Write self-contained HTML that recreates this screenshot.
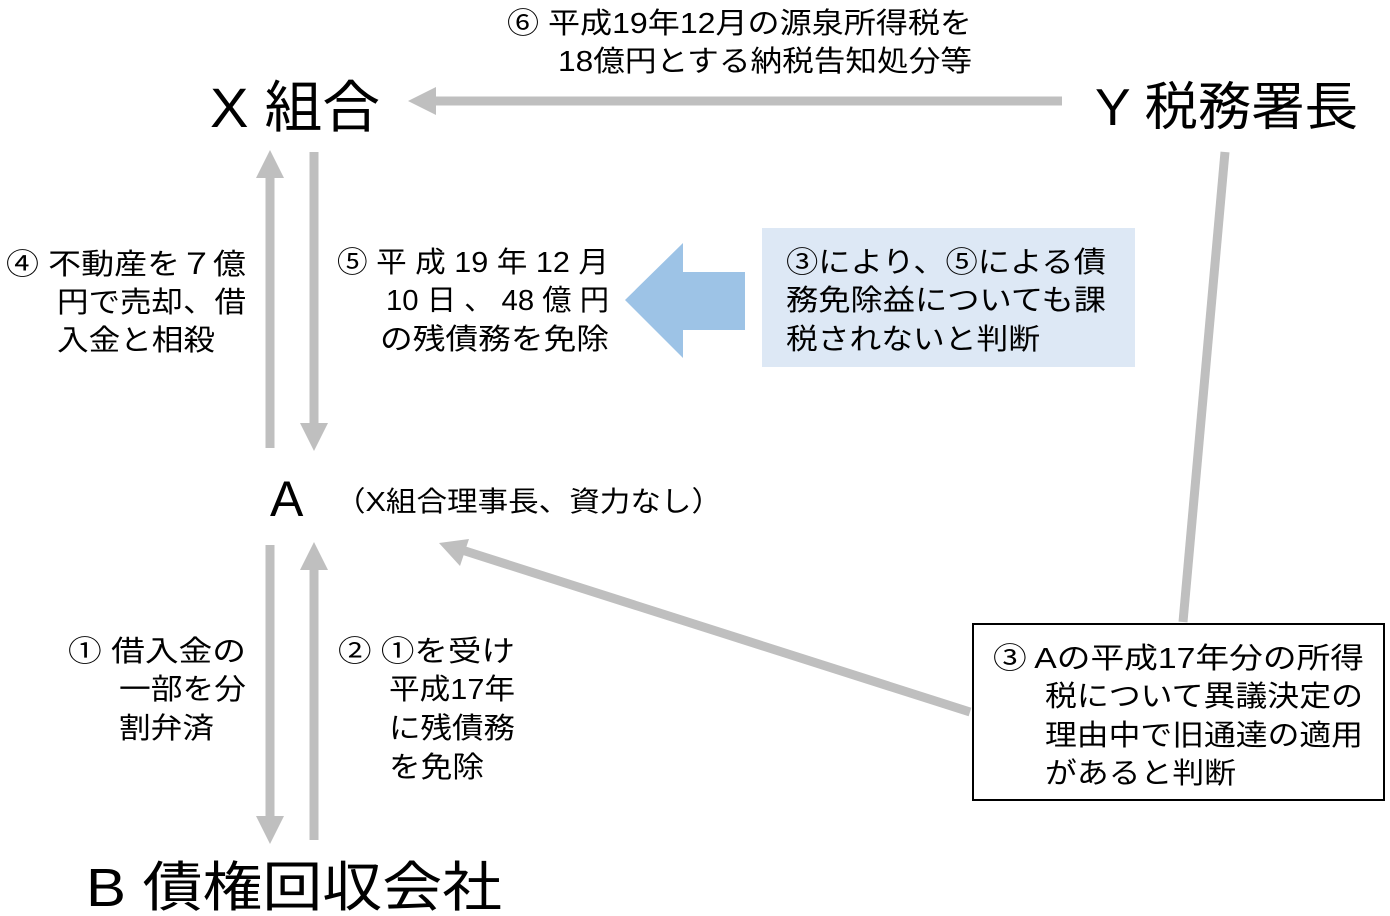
<!DOCTYPE html>
<html><head><meta charset="utf-8"><style>
html,body{margin:0;padding:0;background:#fff;}
svg{display:block;}
text{font-family:"Liberation Sans","Noto Sans CJK JP",sans-serif;fill:#000;}
.s{font-size:29px;}
</style></head><body>
<svg width="1390" height="916" viewBox="0 0 1390 916" xmlns="http://www.w3.org/2000/svg">
<g stroke="#bfbfbf" stroke-width="9" fill="none">
<line x1="1062" y1="101" x2="430" y2="101"/>
<line x1="270" y1="448" x2="270" y2="172"/>
<line x1="314" y1="152" x2="314" y2="428"/>
<line x1="270" y1="545" x2="270" y2="822"/>
<line x1="314" y1="840" x2="314" y2="565"/>
<line x1="970" y1="712" x2="462" y2="550"/>
<line x1="1225" y1="152" x2="1183" y2="622"/>
</g>
<g fill="#bfbfbf">
<polygon points="408,101 436,87 436,115"/>
<polygon points="270,150 256,178 284,178"/>
<polygon points="314,451 300,423 328,423"/>
<polygon points="270,844 256,816 284,816"/>
<polygon points="314,542 300,570 328,570"/>
<polygon points="439,543 469,539 460,566"/>
</g>
<polygon points="625,300 683,243 683,272 745,272 745,330 683,330 683,358" fill="#9dc3e6"/>
<rect x="762" y="228" width="373" height="139" fill="#dde8f5"/>
<rect x="973" y="624" width="411" height="176" fill="#fff" stroke="#000" stroke-width="2"/>

<text x="210" y="127" font-size="56" textLength="170" lengthAdjust="spacingAndGlyphs">X 組合</text>
<text x="1095" y="125" font-size="52" textLength="263" lengthAdjust="spacingAndGlyphs">Y 税務署長</text>
<text x="86" y="906" font-size="54" textLength="416" lengthAdjust="spacingAndGlyphs">B 債権回収会社</text>
<text x="270" y="516" font-size="50">A</text>
<text x="335" y="511" font-size="28" textLength="387" lengthAdjust="spacingAndGlyphs">（X組合理事長、資力なし）</text>

<text class="s" x="507" y="33" textLength="465" lengthAdjust="spacingAndGlyphs">⑥ 平成19年12月の源泉所得税を</text>
<text class="s" x="558" y="71" textLength="414" lengthAdjust="spacingAndGlyphs">18億円とする納税告知処分等</text>

<text class="s" x="6" y="274" textLength="240" lengthAdjust="spacingAndGlyphs">④ 不動産を７億</text>
<text class="s" x="57" y="312" textLength="189" lengthAdjust="spacingAndGlyphs">円で売却、借</text>
<text class="s" x="57" y="350" textLength="158" lengthAdjust="spacingAndGlyphs">入金と相殺</text>

<text class="s" x="337" y="272" textLength="272" lengthAdjust="spacingAndGlyphs">⑤ 平 成 19 年 12 月</text>
<text class="s" x="386" y="310" textLength="223" lengthAdjust="spacingAndGlyphs">10 日 、 48 億 円</text>
<text class="s" x="380" y="349" textLength="229" lengthAdjust="spacingAndGlyphs">の残債務を免除</text>

<text class="s" x="786" y="272" textLength="320" lengthAdjust="spacingAndGlyphs">③により、⑤による債</text>
<text class="s" x="786" y="310" textLength="320" lengthAdjust="spacingAndGlyphs">務免除益についても課</text>
<text class="s" x="786" y="349" textLength="254" lengthAdjust="spacingAndGlyphs">税されないと判断</text>

<text class="s" x="68" y="661" textLength="178" lengthAdjust="spacingAndGlyphs">① 借入金の</text>
<text class="s" x="119" y="699" textLength="127" lengthAdjust="spacingAndGlyphs">一部を分</text>
<text class="s" x="119" y="738" textLength="95" lengthAdjust="spacingAndGlyphs">割弁済</text>

<text class="s" x="338" y="661" textLength="177" lengthAdjust="spacingAndGlyphs">② ①を受け</text>
<text class="s" x="389" y="699" textLength="126" lengthAdjust="spacingAndGlyphs">平成17年</text>
<text class="s" x="389" y="738" textLength="126" lengthAdjust="spacingAndGlyphs">に残債務</text>
<text class="s" x="389" y="777" textLength="95" lengthAdjust="spacingAndGlyphs">を免除</text>

<text class="s" x="993" y="668" textLength="371" lengthAdjust="spacingAndGlyphs">③ Aの平成17年分の所得</text>
<text class="s" x="1045" y="706" textLength="318" lengthAdjust="spacingAndGlyphs">税について異議決定の</text>
<text class="s" x="1045" y="745" textLength="318" lengthAdjust="spacingAndGlyphs">理由中で旧通達の適用</text>
<text class="s" x="1045" y="783" textLength="191" lengthAdjust="spacingAndGlyphs">があると判断</text>
</svg>
</body></html>
